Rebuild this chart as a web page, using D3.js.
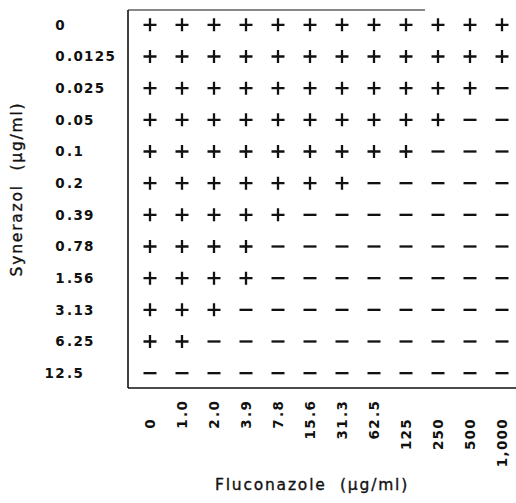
<!DOCTYPE html>
<html>
<head>
<meta charset="utf-8">
<script src="https://cdn.jsdelivr.net/npm/d3@7"></script>
<style>
  body { margin: 0; background: #fff; }
  text { font-family: "DejaVu Sans", sans-serif; fill: #111; }
</style>
</head>
<body>
<div id="root"></div>
<script>
// checkerboard: Synerazol (rows) x Fluconazole (columns), + growth / - no growth
var synerazol = ['0', '0.0125', '0.025', '0.05', '0.1', '0.2', '0.39', '0.78', '1.56', '3.13', '6.25', '12.5'];
var fluconazole = ['0', '1.0', '2.0', '3.9', '7.8', '15.6', '31.3', '62.5', '125', '250', '500', '1,000'];
var growth = [
  '++++++++++++',
  '++++++++++++',
  '+++++++++++-',
  '++++++++++--',
  '+++++++++---',
  '+++++++-----',
  '+++++-------',
  '++++--------',
  '++++--------',
  '+++---------',
  '++----------',
  '------------'
];

var w = 516;
var h = 503;
var frameX = 128;
var frameTop = 10;
var frameBottom = 388;

var svg = d3.select('#root').append('svg')
  .attr('width', w)
  .attr('height', h);

var x = d3.scaleBand().domain(fluconazole).range([134, 518]);
var y = d3.scaleBand().domain(synerazol).range([9, 389]);

// frame
var frame = svg.append('g').attr('id', 'frame')
  .attr('stroke', '#111')
  .attr('fill', 'none');
frame.append('line')
  .attr('x1', frameX).attr('y1', frameTop)
  .attr('x2', frameX).attr('y2', frameBottom)
  .attr('stroke-width', 1.6);
frame.append('line')
  .attr('x1', frameX).attr('y1', frameBottom)
  .attr('x2', w).attr('y2', frameBottom)
  .attr('stroke-width', 1.6);
frame.append('line')
  .attr('x1', frameX).attr('y1', frameTop)
  .attr('x2', 425).attr('y2', frameTop)
  .attr('stroke-width', 1);

// cells
var cells = [];
growth.forEach(function(row, i) {
  row.split('').forEach(function(s, j) {
    cells.push({ row: synerazol[i], col: fluconazole[j], sign: s });
  });
});

var arm = 6.5;
svg.append('g').attr('id', 'cells')
  .selectAll('path')
  .data(cells)
  .enter()
  .append('path')
  .attr('d', function(d) {
    var cx = x(d.col) + x.bandwidth() / 2;
    var cy = y(d.row) + y.bandwidth() / 2;
    var p = 'M' + (cx - arm) + ',' + cy + 'H' + (cx + arm);
    if (d.sign === '+') {
      p += 'M' + cx + ',' + (cy - arm) + 'V' + (cy + arm);
    }
    return p;
  })
  .attr('stroke', '#111')
  .attr('stroke-width', 2.3)
  .attr('fill', 'none');

// labels are aligned on the decimal point
var splitLabel = function(s) {
  var k = s.indexOf('.');
  return k < 0 ? [s, ''] : [s.slice(0, k), s.slice(k)];
};

var rowAnchor = 66;
var rowLabels = svg.append('g').attr('id', 'row-labels')
  .attr('font-size', 13.5)
  .attr('font-weight', 'bold')
  .attr('letter-spacing', 1.3);
synerazol.forEach(function(s) {
  var parts = splitLabel(s);
  var cy = y(s) + y.bandwidth() / 2;
  rowLabels.append('text')
    .attr('x', rowAnchor)
    .attr('y', cy)
    .attr('dy', '0.35em')
    .attr('text-anchor', 'end')
    .text(parts[0]);
  if (parts[1]) {
    rowLabels.append('text')
      .attr('x', rowAnchor + 1)
      .attr('y', cy)
      .attr('dy', '0.35em')
      .attr('text-anchor', 'start')
      .text(parts[1]);
  }
});

var colAnchor = 418;
var colLabels = svg.append('g').attr('id', 'col-labels')
  .attr('font-size', 13.5)
  .attr('font-weight', 'bold')
  .attr('letter-spacing', 1.3);
fluconazole.forEach(function(s) {
  var parts = splitLabel(s);
  var cx = x(s) + x.bandwidth() / 2;
  var g = colLabels.append('g')
    .attr('transform', 'translate(' + cx + ',' + colAnchor + ') rotate(-90)');
  g.append('text')
    .attr('x', 0)
    .attr('y', 0)
    .attr('dy', '0.35em')
    .attr('text-anchor', 'end')
    .text(parts[0]);
  if (parts[1]) {
    g.append('text')
      .attr('x', 1)
      .attr('y', 0)
      .attr('dy', '0.35em')
      .attr('text-anchor', 'start')
      .text(parts[1]);
  }
});

// axis titles
svg.append('text')
  .attr('x', 312)
  .attr('y', 490)
  .attr('text-anchor', 'middle')
  .attr('font-size', 15.5)
  .attr('font-weight', 'normal')
  .attr('stroke', '#111')
  .attr('stroke-width', 0.35)
  .attr('letter-spacing', 1.8)
  .text('Fluconazole \u00a0(\u00b5g/ml)');

svg.append('text')
  .attr('transform', 'translate(17,189) rotate(-90)')
  .attr('dy', '0.35em')
  .attr('text-anchor', 'middle')
  .attr('font-size', 15.5)
  .attr('font-weight', 'normal')
  .attr('stroke', '#111')
  .attr('stroke-width', 0.35)
  .attr('letter-spacing', 1.8)
  .text('Synerazol \u00a0(\u00b5g/ml)');
</script>
</body>
</html>
